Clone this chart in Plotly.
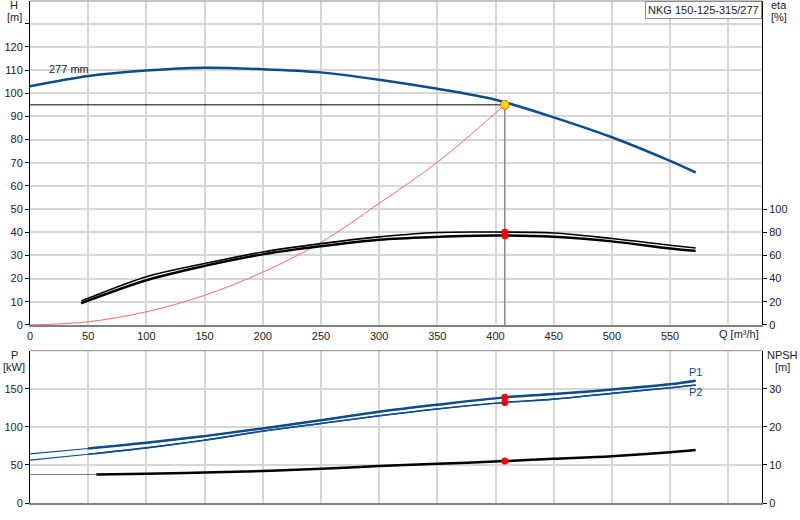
import plotly.graph_objects as go

# head curve, 277 mm impeller
q_head = [0, 50, 100, 150, 200, 250, 300, 350, 400, 450, 500, 550, 572]
head = [103, 107.4, 109.8, 111.0, 110.4, 109.0, 105.8, 101.9, 97.2, 89.6, 81.0, 70.8, 65.8]

# system curve
q_sys = [0, 50, 100, 150, 200, 250, 300, 350, 408]
h_sys = [0, 1.4, 5.7, 12.8, 22.8, 35.6, 52.5, 70.2, 95]

# efficiency curves [%]
q_eta = [44, 50, 100, 150, 200, 250, 300, 350, 400, 450, 500, 550, 572]
eta_hi = [20.6, 23, 41.6, 53, 63, 70.2, 76, 79.8, 80.2, 79.4, 74.6, 68.8, 66.4]
eta_lo = [18.6, 21, 38.6, 51, 61, 68, 73.6, 76, 77.2, 76.2, 72.2, 66, 64]

# power curves [kW]
q_pow = [0, 50, 100, 150, 200, 250, 300, 350, 408, 450, 500, 550, 572]
p1 = [64.5, 71.6, 79, 87.8, 97.9, 108.8, 119.8, 129, 138.7, 143, 149, 155.8, 160.5]
p2 = [56.2, 64, 72.4, 82.5, 94.3, 104.5, 114.5, 123.5, 132, 136.4, 144, 151.3, 154.9]

# NPSH curve [m]
q_npsh = [0, 57, 100, 150, 200, 250, 300, 350, 408, 450, 500, 550, 572]
npsh = [7.5, 7.5, 7.7, 8.0, 8.4, 9.0, 9.7, 10.3, 11.0, 11.6, 12.3, 13.3, 13.9]

# duty point
q_duty = 408
h_duty = 95
eta_duty = [80, 77]
p_duty = [138.7, 132]
npsh_duty = 11.0

x_ticks = [0, 50, 100, 150, 200, 250, 300, 350, 400, 450, 500, 550, 600]
x_labels = ["0", "50", "100", "150", "200", "250", "300", "350", "400", "450", "500", "550", ""]
h_ticks = list(range(0, 140, 10))
h_labels = [str(v) for v in h_ticks[:-1]] + [""]
eta_ticks = [0, 20, 40, 60, 80, 100]
p_ticks = [0, 50, 100, 150]
npsh_ticks = [0, 10, 20, 30]

BLUE = "#0d4c8b"
GRID = "#d6d6d6"
FONT = dict(family="Liberation Sans, Arial", size=11, color="#222")

fig = go.Figure()

# upper plot
fig.add_trace(go.Scatter(x=q_sys, y=h_sys, mode="lines", line=dict(color="#ff6666", width=1, shape="spline"),
                         xaxis="x", yaxis="y"))
fig.add_trace(go.Scatter(x=[0, q_duty], y=[h_duty, h_duty], mode="lines", line=dict(color="black", width=1),
                         xaxis="x", yaxis="y"))
fig.add_trace(go.Scatter(x=[q_duty, q_duty], y=[0, h_duty], mode="lines", line=dict(color="#8a8a8a", width=1.5),
                         xaxis="x", yaxis="y"))
fig.add_trace(go.Scatter(x=q_head, y=head, mode="lines",
                         line=dict(color=BLUE, width=2.5, shape="spline", smoothing=0.8),
                         xaxis="x", yaxis="y"))
fig.add_trace(go.Scatter(x=q_eta, y=eta_hi, mode="lines", line=dict(color="black", width=1.6, shape="spline"),
                         xaxis="x", yaxis="y2"))
fig.add_trace(go.Scatter(x=q_eta, y=eta_lo, mode="lines", line=dict(color="black", width=2.4, shape="spline"),
                         xaxis="x", yaxis="y2"))
fig.add_trace(go.Scatter(x=[q_duty, q_duty], y=eta_duty, mode="markers",
                         marker=dict(color="red", size=7), xaxis="x", yaxis="y2"))
fig.add_trace(go.Scatter(x=[q_duty], y=[h_duty], mode="markers",
                         marker=dict(color="#ffdd00", size=9, line=dict(color="#ff5a1f", width=1)),
                         xaxis="x", yaxis="y"))

# lower plot
fig.add_trace(go.Scatter(x=q_pow, y=p1, mode="lines", line=dict(color=BLUE, width=1.2, shape="spline"),
                         xaxis="x2", yaxis="y3"))
fig.add_trace(go.Scatter(x=q_pow, y=p2, mode="lines", line=dict(color=BLUE, width=1.2, shape="spline"),
                         xaxis="x2", yaxis="y3"))
fig.add_trace(go.Scatter(x=q_pow[1:], y=p1[1:], mode="lines", line=dict(color=BLUE, width=2.5, shape="spline"),
                         xaxis="x2", yaxis="y3"))
fig.add_trace(go.Scatter(x=q_pow[1:], y=p2[1:], mode="lines", line=dict(color=BLUE, width=1.6, shape="spline"),
                         xaxis="x2", yaxis="y3"))
fig.add_trace(go.Scatter(x=q_npsh[:2], y=npsh[:2], mode="lines", line=dict(color="#777", width=1),
                         xaxis="x2", yaxis="y4"))
fig.add_trace(go.Scatter(x=q_npsh[1:], y=npsh[1:], mode="lines", line=dict(color="black", width=2.5, shape="spline"),
                         xaxis="x2", yaxis="y4"))
fig.add_trace(go.Scatter(x=[q_duty, q_duty], y=p_duty, mode="markers",
                         marker=dict(color="red", size=7), xaxis="x2", yaxis="y3"))
fig.add_trace(go.Scatter(x=[q_duty], y=[npsh_duty], mode="markers",
                         marker=dict(color="red", size=7), xaxis="x2", yaxis="y4"))

xcommon = dict(range=[0, 629], showgrid=True, gridcolor=GRID, gridwidth=1.5, zeroline=False,
               tickvals=x_ticks, ticks="", showline=True, linecolor="#808080", linewidth=2)
fig.update_layout(
    width=800, height=520,
    margin=dict(l=30, r=38, t=1, b=17),
    paper_bgcolor="white", plot_bgcolor="white",
    showlegend=False,
    font=FONT,
    xaxis=dict(xcommon, domain=[0, 1], anchor="y", ticktext=x_labels, tickfont=FONT),
    xaxis2=dict(xcommon, domain=[0, 1], anchor="y3", showticklabels=False),
    yaxis=dict(domain=[0.3546, 1], range=[0, 139.8], tickvals=h_ticks, ticktext=h_labels,
               showgrid=True, gridcolor=GRID, gridwidth=1.5, zeroline=False,
               showline=True, linecolor="black", linewidth=1, ticks="outside", ticklen=4,
               tickcolor="black", tickfont=FONT),
    yaxis2=dict(overlaying="y", side="right", anchor="x", range=[0, 279.6], tickvals=eta_ticks,
                showgrid=False, zeroline=False, showline=True, linecolor="black", linewidth=1,
                ticks="outside", ticklen=4, tickcolor="black", tickfont=FONT),
    yaxis3=dict(domain=[0, 0.3034], anchor="x2", range=[0, 200], tickvals=p_ticks,
                showgrid=True, gridcolor=GRID, gridwidth=1.5, zeroline=False,
                showline=True, linecolor="black", linewidth=1, ticks="outside", ticklen=4,
                tickcolor="black", tickfont=FONT),
    yaxis4=dict(overlaying="y3", side="right", anchor="x2", range=[0, 40], tickvals=npsh_ticks,
                showgrid=False, zeroline=False, showline=True, linecolor="black", linewidth=1,
                ticks="outside", ticklen=4, tickcolor="black", tickfont=FONT),
)

# top frame lines
for y0 in [1, 0.3034]:
    fig.add_shape(type="line", xref="paper", yref="paper", x0=0, x1=1, y0=y0, y1=y0,
                  line=dict(color="#8a8a8a", width=1))

ann = [
    dict(text="H", x=-16, y=5),
    dict(text="[m]", x=-16, y=17),
    dict(text="eta", x=17, y=5, right=True),
    dict(text="[%]", x=17, y=17, right=True),
    dict(text="P", x=-16, y=355),
    dict(text="[kW]", x=-16, y=367),
    dict(text="NPSH", x=20, y=355, right=True),
    dict(text="[m]", x=20, y=367, right=True),
]
for a in ann:
    px = (762 + a["x"]) if a.get("right") else (30 + a["x"])
    fig.add_annotation(text=a["text"], xref="paper", yref="paper",
                       x=(px - 30) / 732, y=(503 - a["y"]) / 502,
                       xanchor="center", yanchor="middle", showarrow=False, font=FONT)

fig.add_annotation(text="Q [m³/h]", xref="x", yref="y", x=609.5, y=0, yshift=-9,
                   xanchor="center", yanchor="middle", showarrow=False, font=FONT)
fig.add_annotation(text="277 mm", xref="x", yref="y", x=15, y=110.5, xanchor="left",
                   yanchor="middle", showarrow=False, font=FONT)
fig.add_annotation(text="NKG 150-125-315/277", xref="paper", yref="paper", x=1, y=1,
                   xanchor="right", yanchor="top", showarrow=False, font=FONT,
                   bgcolor="white", bordercolor="#888", borderwidth=1, borderpad=2)
fig.add_annotation(text="P1", xref="x2", yref="y3", x=572, y=172.4, showarrow=False,
                   font=dict(FONT, color=BLUE))
fig.add_annotation(text="P2", xref="x2", yref="y3", x=572, y=146, showarrow=False,
                   font=dict(FONT, color=BLUE))

fig.write_html("out.html", config={"displayModeBar": False},
               post_script="document.body.style.margin='0';")
